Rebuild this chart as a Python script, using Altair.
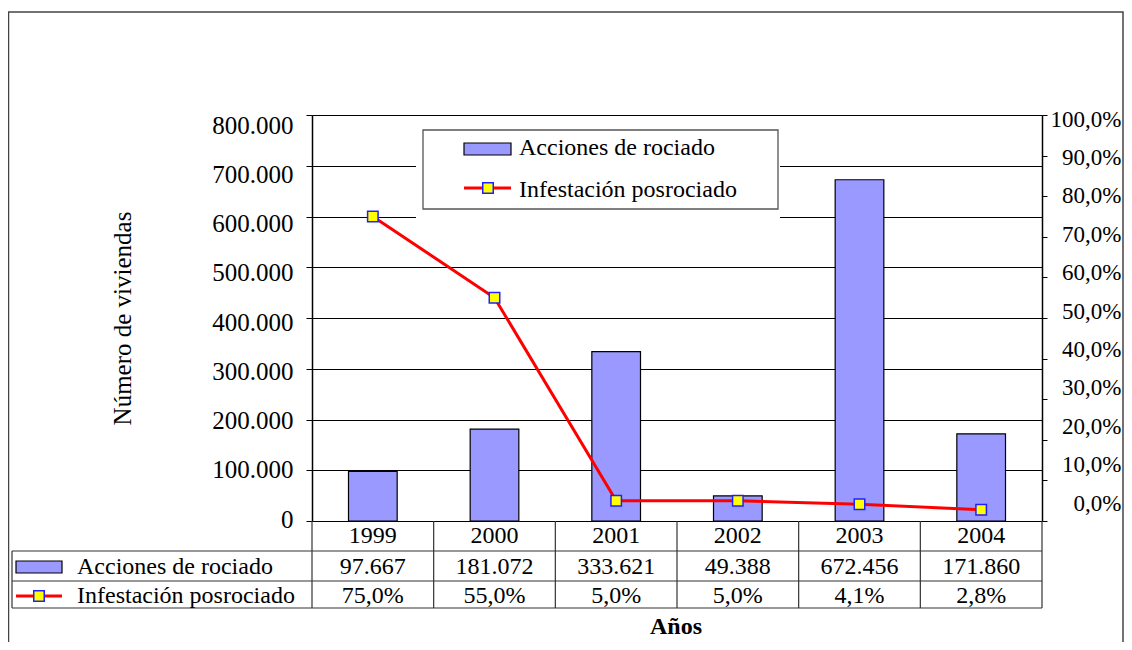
import altair as alt
import pandas as pd

# ---- data ----
years = ["1999", "2000", "2001", "2002", "2003", "2004"]
acciones = [97667, 181072, 333621, 49388, 672456, 171860]
infestacion = [0.75, 0.55, 0.05, 0.05, 0.041, 0.028]
series_names = ["Acciones de rociado", "Infestación posrociado"]
left_ticks = [0, 100000, 200000, 300000, 400000, 500000, 600000, 700000, 800000]
right_ticks = [0, 0.1, 0.2, 0.3, 0.4, 0.5, 0.6, 0.7, 0.8, 0.9, 1.0]
y_title = "Número de viviendas"
x_title = "Años"

df = pd.DataFrame({"year": years, "acciones": acciones, "infest": infestacion})
one = pd.DataFrame({"k": [1]})

FONT = "Liberation Serif, 'Times New Roman', 'DejaVu Serif', serif"
FS = 24
FS_L = 25
FS_R = 23
W, H = 730, 406
BAR = "#9999FF"
RED = "#FF0000"
YEL = "#FFFF00"
BLUE = "#2020FF"
LINEC = "#333333"

xscale = alt.Scale(paddingInner=0, paddingOuter=0)
xenc = alt.X("year:N", sort=years, scale=xscale, axis=None)

base = alt.Chart(df)
dec = alt.Chart(one)

bars = base.mark_bar(fill=BAR, stroke="black", strokeWidth=1.2,
                     width=alt.RelativeBandSize(0.4)).encode(
    x=xenc,
    y=alt.Y("acciones:Q",
            scale=alt.Scale(domain=[0, 800000], nice=False),
            axis=alt.Axis(orient="left", values=left_ticks, format=",.0f",
                          grid=True, gridColor="black", gridWidth=1,
                          domainColor="black", domainWidth=1.5,
                          tickColor="black", tickSize=6,
                          labelPadding=13, labelFont=FONT, labelFontSize=FS_L,
                          labelColor="black",
                          labelOffset={"expr": "-2 + 12*datum.value/800000"},
                          title=y_title, titleFont=FONT, titleFontSize=FS_L,
                          titleFontWeight="normal", titleColor="black",
                          titleAngle=270, titleAlign="center",
                          titleBaseline="middle", titleX=-190, titleY=203)),
)

line = base.mark_line(color=RED, strokeWidth=3,
                      point=alt.OverlayMarkDef(shape="square", size=110, filled=True,
                                               fill=YEL, stroke=BLUE, strokeWidth=1.5,
                                               opacity=1)).encode(
    x=xenc,
    y=alt.Y("infest:Q",
            scale=alt.Scale(domain=[0, 1], nice=False),
            axis=alt.Axis(orient="right", values=right_ticks, format=".1%",
                          grid=False, domainColor="black", domainWidth=1.5,
                          tickColor="black", tickSize=5,
                          labelAlign="right", labelPadding=74,
                          labelFont=FONT, labelFontSize=FS_R, labelColor="black",
                          labelOffset={"expr": "-18 + 22*datum.value"},
                          title=None)),
)

# ---- legend box ----
leg_bg = dec.mark_rect(fill="white").encode(
    x=alt.value(104), x2=alt.value(468), y=alt.value(6), y2=alt.value(104))
leg_border = dec.mark_rect(fill="white", stroke="#555555", strokeWidth=1.3).encode(
    x=alt.value(111), x2=alt.value(466), y=alt.value(15), y2=alt.value(94))
leg_bar = dec.mark_rect(fill=BAR, stroke="black", strokeWidth=1.2).encode(
    x=alt.value(152), x2=alt.value(199), y=alt.value(28), y2=alt.value(40))
leg_line = dec.mark_rule(color=RED, strokeWidth=3).encode(
    x=alt.value(152), x2=alt.value(199), y=alt.value(73))
leg_pt = dec.mark_point(shape="square", size=110, filled=True, fill=YEL,
                        stroke=BLUE, strokeWidth=1.5, opacity=1).encode(
    x=alt.value(176), y=alt.value(73))
leg_t1 = dec.mark_text(font=FONT, fontSize=FS, align="left", baseline="middle",
                       color="black").encode(
    x=alt.value(207), y=alt.value(33), text=alt.value(series_names[0]))
leg_t2 = dec.mark_text(font=FONT, fontSize=FS, align="left", baseline="middle",
                       color="black").encode(
    x=alt.value(207), y=alt.value(75), text=alt.value(series_names[1]))

# ---- data table ----
txt = dict(font=FONT, fontSize=FS, align="center", baseline="middle", color="black")
t_years = base.mark_text(**txt).encode(x=xenc, y=alt.value(421), text="year:N")
t_acc = base.mark_text(**txt).encode(x=xenc, y=alt.value(452),
                                     text=alt.Text("acciones:Q", format=",.0f"))
t_inf = base.mark_text(**txt).encode(x=xenc, y=alt.value(481),
                                     text=alt.Text("infest:Q", format=".1%"))

vlines = base.mark_rule(color=LINEC, strokeWidth=1.2).encode(
    x=alt.X("year:N", sort=years, scale=xscale, axis=None, bandPosition=0),
    y=alt.value(406), y2=alt.value(493))
vright = dec.mark_rule(color=LINEC, strokeWidth=1.2).encode(
    x=alt.value(730), y=alt.value(406), y2=alt.value(493))
vleft = dec.mark_rule(color=LINEC, strokeWidth=1.2).encode(
    x=alt.value(-300), y=alt.value(436), y2=alt.value(493))
h1 = dec.mark_rule(color=LINEC, strokeWidth=1.2).encode(
    x=alt.value(-300), x2=alt.value(730), y=alt.value(436))
h2 = dec.mark_rule(color=LINEC, strokeWidth=1.2).encode(
    x=alt.value(-300), x2=alt.value(730), y=alt.value(466))
h3 = dec.mark_rule(color=LINEC, strokeWidth=1.2).encode(
    x=alt.value(-300), x2=alt.value(730), y=alt.value(493))

tb_bar = dec.mark_rect(fill=BAR, stroke="black", strokeWidth=1.2).encode(
    x=alt.value(-296), x2=alt.value(-250), y=alt.value(446), y2=alt.value(458))
tb_line = dec.mark_rule(color=RED, strokeWidth=3).encode(
    x=alt.value(-296), x2=alt.value(-250), y=alt.value(481))
tb_pt = dec.mark_point(shape="square", size=110, filled=True, fill=YEL,
                       stroke=BLUE, strokeWidth=1.5, opacity=1).encode(
    x=alt.value(-273), y=alt.value(481))
tb_t1 = dec.mark_text(font=FONT, fontSize=FS, align="left", baseline="middle",
                      color="black").encode(
    x=alt.value(-235), y=alt.value(452), text=alt.value(series_names[0]))
tb_t2 = dec.mark_text(font=FONT, fontSize=FS, align="left", baseline="middle",
                      color="black").encode(
    x=alt.value(-235), y=alt.value(481), text=alt.value(series_names[1]))

x_lab = dec.mark_text(font=FONT, fontSize=FS, fontWeight="bold", align="center",
                      baseline="alphabetic", color="black").encode(
    x=alt.value(364), y=alt.value(519), text=alt.value(x_title))

frame = dec.mark_rect(fill="transparent", stroke="#444444", strokeWidth=1.5).encode(
    x=alt.value(-303.5), x2=alt.value(811), y=alt.value(-103), y2=alt.value(560))

chart = alt.layer(
    frame, bars, line, leg_bg, leg_border, leg_bar, leg_line, leg_pt, leg_t1, leg_t2,
    t_years, t_acc, t_inf, vlines, vright, vleft, h1, h2, h3,
    tb_bar, tb_line, tb_pt, tb_t1, tb_t2, x_lab,
).resolve_scale(y="independent").properties(
    width=W, height=H,
    autosize=alt.AutoSizeParams(type="none"),
    padding={"left": 304, "top": 107, "right": 82, "bottom": 121},
    background="white",
).configure_view(strokeWidth=0).configure(
    locale={"number": {"decimal": ",", "thousands": ".", "grouping": [3],
                       "currency": ["", " €"]}}
)

chart.save("out.html", embed_options={"renderer": "svg", "actions": False})
